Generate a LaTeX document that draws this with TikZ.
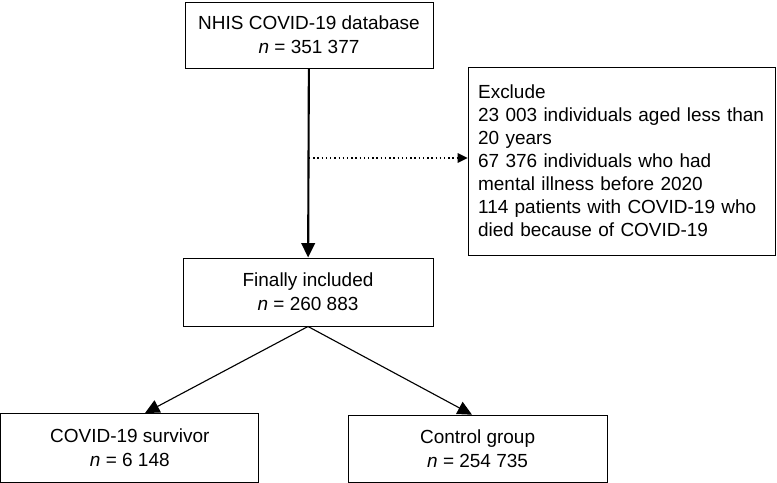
\documentclass[tikz,border=0pt]{standalone}
\usepackage{fontspec}
\setmainfont{Liberation Sans}
\usetikzlibrary{arrows.meta,positioning}
\tikzset{
  box/.style={draw, line width=0.7pt, align=center, inner sep=0pt,
    font=\fontsize{13.5}{17}\selectfont},
  excl/.style={draw, line width=0.7pt, align=left, inner xsep=0.25cm, inner ysep=0pt,
    text width=7.175cm, minimum height=4.7cm, font=\fontsize{13.5}{16.4}\selectfont},
  flow/.style={-{Triangle[length=0.36cm,width=0.34cm]}, line width=0.8pt},
}
\begin{document}
\begin{tikzpicture}
\useasboundingbox (0,0) rectangle (19.425,-12.075);
% Boxes
\node[box, minimum width=6.2cm, minimum height=1.65cm] (nhis) at (7.725,-0.875)
  {NHIS COVID-19 database\\\textit{n} = 351 377};
\node[excl] (exclude) at (15.54,-4.025)
  {Exclude\\23 003 individuals aged less than\\20 years\\67 376 individuals who had\\mental illness before 2020\\114 patients with COVID-19 who\\died because of COVID-19};
\node[box, minimum width=6.25cm, minimum height=1.7cm] (final) at (7.7,-7.3)
  {Finally included\\\textit{n} = 260 883};
\node[box, minimum width=6.45cm, minimum height=1.72cm] (survivor) at (3.245,-11.2)
  {COVID-19 survivor\\\textit{n} = 6 148};
\node[box, minimum width=6.475cm, minimum height=1.68cm] (control) at (11.94,-11.22)
  {Control group\\\textit{n} = 254 735};
% Arrows
\draw[flow, line width=1.5pt] (nhis) -- (final);
\coordinate (split) at (nhis.south |- 0,-3.95);
\draw[dotted, line width=1pt, -{Triangle[length=0.25cm,width=0.24cm]}] (split) -- (exclude.west |- split);
\draw[flow] (final.south) -- ([xshift=0.38cm]survivor.north);
\draw[flow] (final.south) -- ([xshift=-0.14cm]control.north);
\end{tikzpicture}
\end{document}
